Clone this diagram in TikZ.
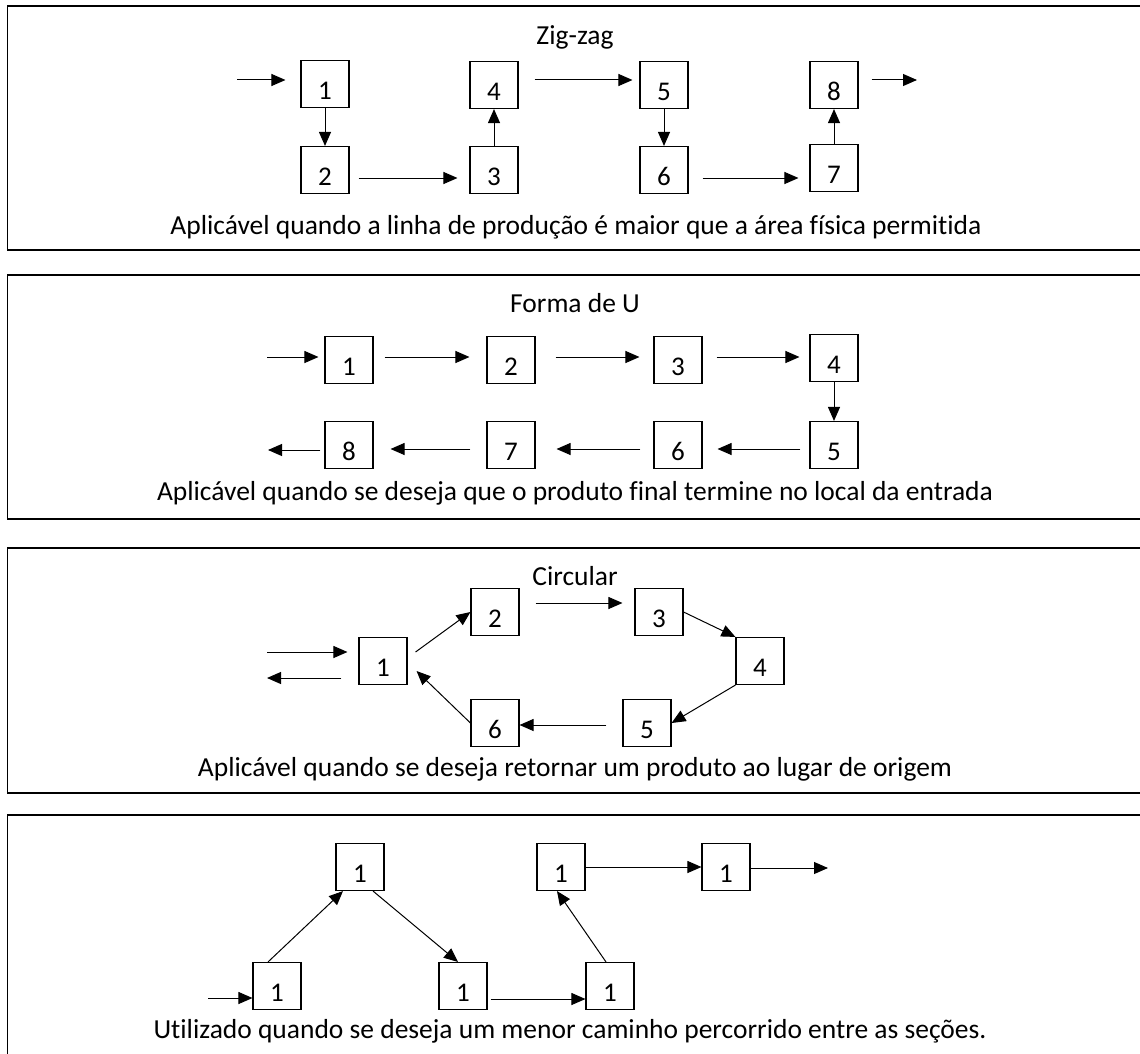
\documentclass[tikz,border=0pt]{standalone}
\usepackage{fontspec}
\setmainfont{Carlito}[Ligatures={NoCommon}]
\usetikzlibrary{arrows.meta}

\newcommand{\txtfont}{\fontsize{27.5}{33}\selectfont}
\newcommand{\numfont}{\fontsize{27}{32}\selectfont}

\tikzset{
    box/.style={draw, line width=1.1pt, minimum width=48pt, minimum height=47pt, inner sep=0pt, text height=31pt, text depth=0pt, font=\numfont},
    arr/.style={line width=1pt, -{Triangle[length=14pt,width=12pt]}},
    frame/.style={line width=1.8pt},
    lbl/.style={font=\txtfont, inner sep=0pt, anchor=base},
}

\begin{document}
\begin{tikzpicture}[x=1pt, y=-1pt]

    \useasboundingbox (0,0) rectangle (1140,1054);

    \foreach \t/\b in {6/250, 275/519, 548/793}
        \draw[frame] (1140,\t) -| (7.5,\b) -- (1140,\b);
    \draw[frame] (1140,815) -| (7.5,1054);

    % zig-zag
    \node[lbl] (tit1) at (575,45) {Zig-zag};
    \foreach \n/\x/\y in {1/325/84, 2/325/170, 3/494/170, 4/494/85, 5/664/85, 6/664/170, 7/834/168, 8/834/85}
        \node[box] (z\n) at (\x,\y) {\n};
    \coordinate (zin) at (237,80);
    \coordinate (zout) at (917,80);
    \draw[arr, shorten >=15pt] (zin) -- (zin -| z1.west);
    \draw[arr] (z1) -- (z2);
    \draw[arr, shorten <=9pt, shorten >=12pt] ([yshift=-8pt]z2.east) -- ([yshift=-8pt]z3.west);
    \draw[arr] (z3) -- (z4);
    \draw[arr, shorten <=16pt, shorten >=7pt] ([yshift=5pt]z4.east) -- ([yshift=5pt]z5.west);
    \draw[arr] (z5) -- (z6);
    \draw[arr, shorten <=14pt, shorten >=11pt] ([yshift=-8pt]z6.east) -- ([yshift=-8pt]z6.east -| z7.west);
    \draw[arr] (z7) -- (z8);
    \draw[arr, shorten <=13pt] (zout -| z8.east) -- (zout);
    \node[lbl] (cap1) at (576,234) {Aplicável quando a linha de produção é maior que a área física permitida};

    % forma de U
    \node[lbl] (tit2) at (575,312) {Forma de U};
    \foreach \n/\x/\y in {1/349/360, 2/511/360, 3/678/360, 4/834/358, 5/834/445, 6/678/445, 7/511/445, 8/349/445}
        \node[box] (u\n) at (\x,\y) {\n};
    \coordinate (uin) at (267,357);
    \coordinate (uout) at (268,450);
    \draw[arr, shorten >=6pt] (uin) -- (uin -| u1.west);
    \foreach \a/\b/\s/\e in {1/2/11/17, 2/3/20/14, 3/4/14/10}
        \draw[arr, shorten <=\s pt, shorten >=\e pt] ([yshift=3pt]u\a.east) -- ([yshift=3pt]u\a.east -| u\b.west);
    \draw[arr] (u4) -- (u5);
    \foreach \a/\b/\s/\e in {5/6/9/15, 6/7/13/21, 7/8/16/17}
        \draw[arr, shorten <=\s pt, shorten >=\e pt] ([yshift=-4pt]u\a.west) -- ([yshift=-4pt]u\a.west -| u\b.east);
    \draw[arr, shorten <=4pt] (uout -| u8.west) -- (uout);
    \node[lbl] (cap2) at (575,500) {Aplicável quando se deseja que o produto final termine no local da entrada};

    % circular
    \node[lbl] (tit3) at (575,585) {Circular};
    \foreach \n/\x/\y in {1/383/661, 2/495/612, 3/659/612, 4/760/661, 5/647/723, 6/495/723}
        \node[box] (c\n) at (\x,\y) {\n};
    \coordinate (cin) at (267,652);
    \coordinate (cout) at (267,678);
    \draw[arr, shorten >=11pt] (cin) -- (cin -| c1.west);
    \draw[arr, shorten <=17pt] (cout -| c1.west) -- (cout);
    \draw[arr] ([shift={(8pt,9pt)}]c1.east) -- (c2.west);
    \draw[arr, shorten <=16pt, shorten >=12pt] ([yshift=9pt]c2.east) -- ([yshift=9pt]c3.west);
    \draw[arr] (c3.east) -- (c4.north west);
    \draw[arr] (c4.south west) -- (c5.east);
    \draw[arr, shorten <=16pt] ([yshift=-2pt]c5.west) -- ([yshift=-2pt]c6.east);
    \draw[arr] (c6.west) -- ([shift={(9pt,-10pt)}]c1.east);
    \node[lbl] (cap3) at (575,776) {Aplicável quando se deseja retornar um produto ao lugar de origem};

    % menor caminho
    \foreach \n/\x/\y in {1/277/986, 2/360/867, 3/463/986, 4/610/986, 5/561/867, 6/726/867}
        \node[box] (s\n) at (\x,\y) {1};
    \coordinate (sin) at (208,998);
    \coordinate (sout) at (828,868);
    \draw[arr] (sin) -- (sin -| s1.west);
    \draw[arr] ([xshift=-9pt]s1.north) -- ([xshift=-17pt]s2.south);
    \draw[arr] ([xshift=13pt]s2.south) -- ([xshift=-5pt]s3.north);
    \draw[arr, shorten <=3pt] ([yshift=-13pt]s3.east) -- ([yshift=-13pt]s4.west);
    \draw[arr] ([xshift=-4pt]s4.north) -- ([xshift=-4pt]s5.south);
    \draw[arr] (s5) -- (s6);
    \draw[arr] (s6.east |- sout) -- (sout);
    \node[lbl] (cap4) at (570,1038) {Utilizado quando se deseja um menor caminho percorrido entre as seções.};

\end{tikzpicture}
\end{document}
